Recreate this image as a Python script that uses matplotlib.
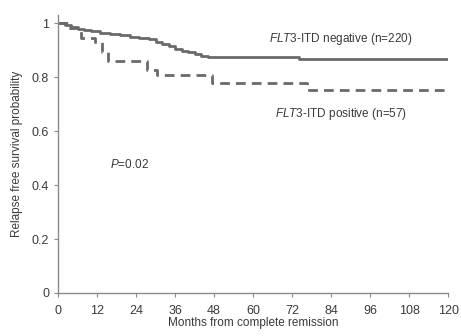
import matplotlib.pyplot as plt
import numpy as np

plt.rcParams['font.family'] = ['Liberation Sans', 'DejaVu Sans']
plt.rcParams['mathtext.fontset'] = 'custom'
plt.rcParams['mathtext.it'] = 'Liberation Sans:italic'
plt.rcParams['mathtext.rm'] = 'Liberation Sans'

LINE_COLOR = '#6a6a6a'
TEXT_COLOR = '#3a3a3a'
AXIS_COLOR = '#8a8a8a'

# Kaplan-Meier step data (months, probability)
neg_months = [0, 2, 4, 6, 8, 10, 13, 16, 19, 22, 25, 28, 30, 32, 34, 36, 38, 40, 42, 44, 46, 74, 120]
neg_prob = [1.0, 0.993, 0.987, 0.98, 0.975, 0.97, 0.965, 0.96, 0.955, 0.95, 0.945, 0.94, 0.932,
            0.922, 0.915, 0.905, 0.898, 0.892, 0.886, 0.88, 0.875, 0.868, 0.868]

pos_months = [0, 3, 7, 11.5, 13.5, 15.5, 27.5, 30.5, 47.5, 76.5, 120]
pos_prob = [1.0, 0.982, 0.947, 0.93, 0.895, 0.86, 0.825, 0.807, 0.779, 0.754, 0.754]

x_ticks = [0, 12, 24, 36, 48, 60, 72, 84, 96, 108, 120]
y_ticks = [0, 0.2, 0.4, 0.6, 0.8, 1.0]
y_tick_labels = ['0', '0.2', '0.4', '0.6', '0.8', '1']

fig = plt.figure(figsize=(4.61, 3.36), dpi=100)
ax = fig.add_axes([0.126, 0.128, 0.846, 0.827])

ax.step(neg_months, neg_prob, where='post', color=LINE_COLOR, lw=2.0)
ax.step(pos_months, pos_prob, where='post', color=LINE_COLOR, lw=2.0, linestyle=(0, (3.5, 2.2)))

ax.set_xlim(0, 120)
ax.set_ylim(0, 1.03)
ax.set_xticks(x_ticks)
ax.set_yticks(y_ticks)
ax.set_yticklabels(y_tick_labels)

for s in ['top', 'right']:
    ax.spines[s].set_visible(False)
for s in ['left', 'bottom']:
    ax.spines[s].set_color(AXIS_COLOR)
    ax.spines[s].set_linewidth(1.0)
ax.tick_params(colors=AXIS_COLOR, labelcolor=TEXT_COLOR, labelsize=9, length=3, width=0.8)
ax.tick_params(axis='x', pad=6)

ax.set_xlabel('Months from complete remission', fontsize=8.5, color=TEXT_COLOR, labelpad=0)
ax.set_ylabel('Relapse free survival probability', fontsize=8.5, color=TEXT_COLOR, labelpad=6)

ax.text(87, 0.94, r'$\mathit{FLT3}$-ITD negative (n=220)', fontsize=8.5, color=TEXT_COLOR,
        ha='center', va='center')
ax.text(87, 0.665, r'$\mathit{FLT3}$-ITD positive (n=57)', fontsize=8.5, color=TEXT_COLOR,
        ha='center', va='center')
ax.text(16, 0.475, r'$\mathit{P}$=0.02', fontsize=8.5, color=TEXT_COLOR, ha='left', va='center')

plt.savefig('out.png', dpi=100, facecolor='white')
